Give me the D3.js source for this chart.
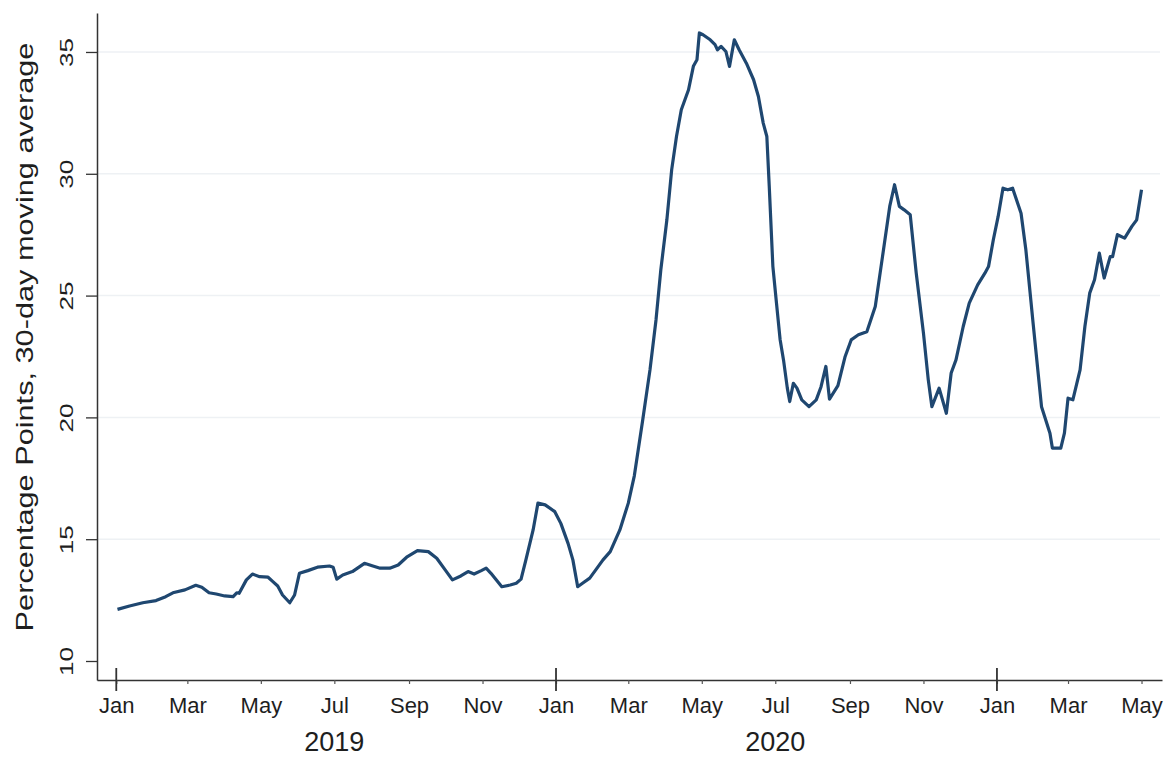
<!DOCTYPE html>
<html>
<head>
<meta charset="utf-8">
<script src="https://cdn.jsdelivr.net/npm/d3@7"></script>
<style>
  body { margin: 0; background: #fff; }
  text { font-family: "Liberation Sans", Arial, sans-serif; fill: #1e1e1e; }
</style>
</head>
<body>
<div id="chart"></div>
<script>
// days since 2019-01-01
var dayIndex = [1, 11, 22, 33, 41, 47, 57, 66, 71, 77, 83, 90, 97, 100, 102, 108, 113, 119, 126, 130,
  134, 138, 144, 148, 152, 159, 167, 177, 180, 183, 188, 196, 206, 213, 219, 227, 234, 241, 250, 259,
  266, 273, 279, 286, 292, 297, 303, 307, 311, 320, 327, 332, 336, 340, 346, 350, 356, 364, 369, 375,
  379, 383, 387, 393, 398, 404, 410, 418, 425, 430, 437, 443, 448, 452, 457, 461, 465, 469, 475, 479,
  482, 484, 487, 493, 497, 499, 502, 506, 509, 513, 517, 523, 529, 533, 537, 540, 542, 545, 548, 551,
  554, 557, 559, 562, 565, 569, 575, 581, 585, 589, 592, 599, 605, 610, 616, 623, 630, 636, 642, 646,
  650, 654, 659, 664, 670, 674, 677, 683, 689, 693, 697, 703, 708, 715, 721, 724, 728, 732, 736, 740,
  744, 751, 755, 761, 768, 775, 777, 784, 787, 790, 794, 800, 804, 808, 812, 816, 820, 825, 827, 831,
  837, 843, 847, 851];
var avgPoints = [12.12, 12.26, 12.39, 12.48, 12.64, 12.80, 12.92, 13.11, 13.03, 12.80, 12.75, 12.67, 12.64, 12.80, 12.78, 13.33, 13.57, 13.46, 13.44, 13.26,
  13.08, 12.71, 12.39, 12.71, 13.60, 13.71, 13.85, 13.90, 13.85, 13.36, 13.53, 13.67, 14.01, 13.90, 13.81, 13.81, 13.94, 14.26, 14.53, 14.49,
  14.22, 13.74, 13.33, 13.49, 13.67, 13.57, 13.71, 13.81, 13.60, 13.05, 13.12, 13.19, 13.36, 14.15, 15.38, 16.48, 16.41, 16.13, 15.65, 14.83,
  14.15, 13.05, 13.19, 13.40, 13.74, 14.15, 14.49, 15.38, 16.48, 17.60, 19.90, 21.95, 24.00, 26.06, 28.10, 30.16, 31.53, 32.63, 33.45, 34.41,
  34.68, 35.78, 35.71, 35.50, 35.30, 35.09, 35.23, 35.02, 34.41, 35.50, 35.09, 34.54, 33.86, 33.17, 32.08, 31.53, 29.48, 26.20, 24.69, 23.20,
  22.30, 21.20, 20.65, 21.40, 21.20, 20.72, 20.44, 20.72, 21.26, 22.09, 20.75, 21.30, 22.50, 23.18, 23.39, 23.52, 24.55, 26.60, 28.66, 29.55,
  28.66, 28.52, 28.32, 25.92, 23.46, 21.54, 20.44, 21.20, 20.17, 21.82, 22.36, 23.73, 24.69, 25.44, 25.92, 26.19, 27.29, 28.25, 29.41, 29.34,
  29.41, 28.38, 26.88, 23.87, 20.44, 19.35, 18.74, 18.74, 19.35, 20.79, 20.72, 21.95, 23.73, 25.10, 25.65, 26.74, 25.72, 26.60, 26.60, 27.50,
  27.36, 27.84, 28.11, 29.34];

var yTicks = [10, 15, 20, 25, 30, 35];
var monthTicks = ["2019-01-01", "2019-03-01", "2019-05-01", "2019-07-01", "2019-09-01", "2019-11-01",
  "2020-01-01", "2020-03-01", "2020-05-01", "2020-07-01", "2020-09-01", "2020-11-01",
  "2021-01-01", "2021-03-01", "2021-05-01"];
var yearTicks = ["2019-01-01", "2020-01-01", "2021-01-01"];
var yearLabels = [{year: "2019", at: "2019-07-01"}, {year: "2020", at: "2020-07-01"}];
var yTitle = "Percentage Points, 30-day moving average";

var parse = d3.timeParse("%Y-%m-%d");
var start = new Date(2019, 0, 1);
var series = dayIndex.map(function(d, i) {
  return {date: d3.timeDay.offset(start, d), value: avgPoints[i]};
});

var width = 1168, height = 758;
var svg = d3.select("#chart").append("svg")
  .attr("width", width)
  .attr("height", height);

var x = d3.scaleTime()
  .domain([new Date(2018, 11, 16), new Date(2021, 4, 18)])
  .range([97, 1162]);
var y = d3.scaleLinear()
  .domain([9.22, 36.6])
  .range([680, 13]);

// faint gridlines
svg.append("g").selectAll("line")
  .data(yTicks.slice(1))
  .enter().append("line")
  .attr("x1", 98).attr("x2", 1160)
  .attr("y1", function(d) { return y(d); })
  .attr("y2", function(d) { return y(d); })
  .style("stroke", "#eef1f4")
  .style("stroke-width", 1.5);

// y axis
var yAxis = svg.append("g")
  .attr("transform", "translate(97,0)")
  .call(d3.axisLeft(y).tickValues(yTicks).tickSize(11).tickSizeOuter(0));
yAxis.select(".domain").style("stroke", "#333").style("stroke-width", 1.5);
yAxis.selectAll(".tick line").style("stroke", "#333").style("stroke-width", 1.3);
yAxis.selectAll(".tick text")
  .attr("x", null).attr("dy", null)
  .attr("transform", "translate(-24,0) rotate(-90) scale(1.45,1)")
  .style("text-anchor", "middle")
  .style("font-size", "18px");

// x axis, month ticks
var xAxis = svg.append("g")
  .attr("transform", "translate(0,680)")
  .call(d3.axisBottom(x)
    .tickValues(monthTicks.map(parse))
    .tickSize(4).tickSizeOuter(0)
    .tickFormat(d3.timeFormat("%b")));
xAxis.select(".domain").style("stroke", "#333").style("stroke-width", 1.5);
xAxis.selectAll(".tick line").style("stroke", "#555").style("stroke-width", 1.2);
xAxis.selectAll(".tick text")
  .attr("y", 33).attr("dy", null)
  .style("font-size", "22px");

// long year ticks
svg.append("g").selectAll("line")
  .data(yearTicks.map(parse))
  .enter().append("line")
  .attr("x1", function(d) { return x(d); })
  .attr("x2", function(d) { return x(d); })
  .attr("y1", 668).attr("y2", 691)
  .style("stroke", "#333")
  .style("stroke-width", 1.8);

svg.append("g").selectAll("text")
  .data(yearLabels)
  .enter().append("text")
  .attr("x", function(d) { return x(parse(d.at)); })
  .attr("y", 751)
  .style("text-anchor", "middle")
  .style("font-size", "27px")
  .text(function(d) { return d.year; });

// y title
svg.append("text")
  .attr("transform", "translate(33,337) rotate(-90) scale(1.28,1)")
  .style("text-anchor", "middle")
  .style("font-size", "24px")
  .text(yTitle);

var line = d3.line()
  .x(function(d) { return x(d.date); })
  .y(function(d) { return y(d.value); });

svg.append("path")
  .datum(series)
  .attr("d", line)
  .style("fill", "none")
  .style("stroke", "#1f4770")
  .style("stroke-width", 3.2)
  .style("stroke-linejoin", "round");
</script>
</body>
</html>
